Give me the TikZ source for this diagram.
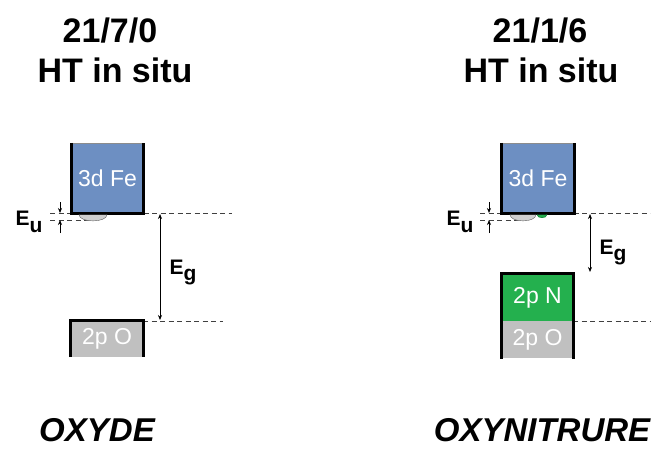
\documentclass[tikz,border=0pt]{standalone}
\usepackage{fontspec}
\setmainfont{Liberation Sans}
\usetikzlibrary{positioning, arrows.meta}
\definecolor{feBlue}{HTML}{6D8FC2}
\definecolor{nGreen}{HTML}{24B04E}
\definecolor{oGray}{HTML}{C0C0C0}
\definecolor{tailGray}{HTML}{CFCFCF}

\begin{document}
\begin{tikzpicture}[x=1pt, y=-1pt,
    band/.style={inner sep=0pt, minimum width=72pt, text=white,
                 font=\fontsize{23}{23}\selectfont},
    edge/.style={line width=3pt},
    level/.style={dash pattern=on 5pt off 3.5pt, line width=0.7pt, black!75},
    gap/.style={line width=0.7pt, -{Stealth[length=5pt, width=4pt]}},
    gapboth/.style={line width=0.7pt, {Stealth[length=5pt, width=4pt]}-{Stealth[length=5pt, width=4pt]}},
    title/.style={anchor=base, font=\bfseries\fontsize{34}{34}\selectfont},
    compound/.style={anchor=base, inner sep=0pt,
                     font=\bfseries\itshape\fontsize{33}{33}\selectfont},
    energy/.style={anchor=base west, font=\bfseries\fontsize{21}{21}\selectfont}]
  \useasboundingbox (0,0) rectangle (661,450);

  % titres
  \node[title] (ttlA) at (110,42) {21/7/0};
  \node[title] (subA) at (115,82) {HT in situ};
  \node[title] (ttlB) at (540,42) {21/1/6};
  \node[title] (subB) at (541,82) {HT in situ};

  % niveaux
  \coordinate (cbA) at (50,213);   \coordinate (cbAe) at (232,213);
  \coordinate (tlA) at (50,220);   \coordinate (tlAe) at (93,220);
  \coordinate (vbA) at (143,321);  \coordinate (vbAe) at (223,321);
  \coordinate (cbB) at (480,213);  \coordinate (cbBe) at (650,213);
  \coordinate (tlB) at (480,220);  \coordinate (tlBe) at (523,220);
  \coordinate (vbB) at (573,321);  \coordinate (vbBe) at (650,321);
  \draw[level] (cbA) -- (cbAe);
  \draw[level] (tlA) -- (tlAe);
  \draw[level] (vbA) -- (vbAe);
  \draw[level] (cbB) -- (cbBe);
  \draw[level] (tlB) -- (tlBe);
  \draw[level] (vbB) -- (vbBe);

  % oxyde
  \node[band, fill=feBlue, minimum height=70pt] (feA) at (107.5,178) {3d Fe};
  \node[band, fill=oGray, minimum height=36pt] (oA) at (107,339) {2p O};
  \draw[black!45, thin] (feA.north west) -- (feA.north east);
  \draw[edge] (feA.north west) -- (feA.south west) -- (feA.south east) -- (feA.north east);
  \draw[edge] (oA.south west) -- (oA.north west) -- (oA.north east) -- (oA.south east);
  \draw[black!60, fill=tailGray] (79,214.5) .. controls (79,223) and (107,223) .. (107,214.5) -- cycle;

  % oxynitrure
  \node[band, fill=feBlue, minimum height=70pt] (feB) at (538,178) {3d Fe};
  \node[band, fill=nGreen, minimum height=47pt] (nB) at (537.5,297.5) {2p N};
  \node[band, fill=oGray, minimum height=37pt, below=0pt of nB] (oB) {2p O};
  \draw[black!45, thin] (feB.north west) -- (feB.north east);
  \draw[edge] (feB.north west) -- (feB.south west) -- (feB.south east) -- (feB.north east);
  \draw[edge] (oB.south west) -- (nB.north west) -- (nB.north east) -- (oB.south east);
  \draw[black!60, fill=tailGray] (510,214.5) .. controls (510,223) and (536,223) .. (536,214.5) -- cycle;
  \draw[nGreen!70!black, fill=nGreen] (537,214.5) .. controls (537,218.5) and (547,218.5) .. (547,214.5) -- cycle;

  % energies
  \coordinate (euA1) at (60,202);  \coordinate (euA2) at (60,213);
  \coordinate (euA3) at (60,233);  \coordinate (euA4) at (60,220);
  \draw[gap] (euA1) -- (euA2);
  \draw[gap] (euA3) -- (euA4);
  \node[energy] (lblEuA) at (12,225) {E\raisebox{-7pt}{u}};
  \coordinate (egA1) at (160,214);  \coordinate (egA2) at (160,320);
  \draw[gapboth] (egA1) -- (egA2);
  \node[energy] (lblEgA) at (166,274) {E\raisebox{-6pt}{g}};

  \coordinate (euB1) at (489,202);  \coordinate (euB2) at (489,213);
  \coordinate (euB3) at (489,233);  \coordinate (euB4) at (489,220);
  \draw[gap] (euB1) -- (euB2);
  \draw[gap] (euB3) -- (euB4);
  \node[energy] (lblEuB) at (443,225) {E\raisebox{-7pt}{u}};
  \coordinate (egB1) at (590,214);  \coordinate (egB2) at (590,272);
  \draw[gapboth] (egB1) -- (egB2);
  \node[energy] (lblEgB) at (596,254) {E\raisebox{-6pt}{g}};

  % composes
  \node[compound] (nmA) at (97,441) {OXYDE};
  \node[compound] (nmB) at (542,441) {OXYNITRURE};
\end{tikzpicture}
\end{document}
